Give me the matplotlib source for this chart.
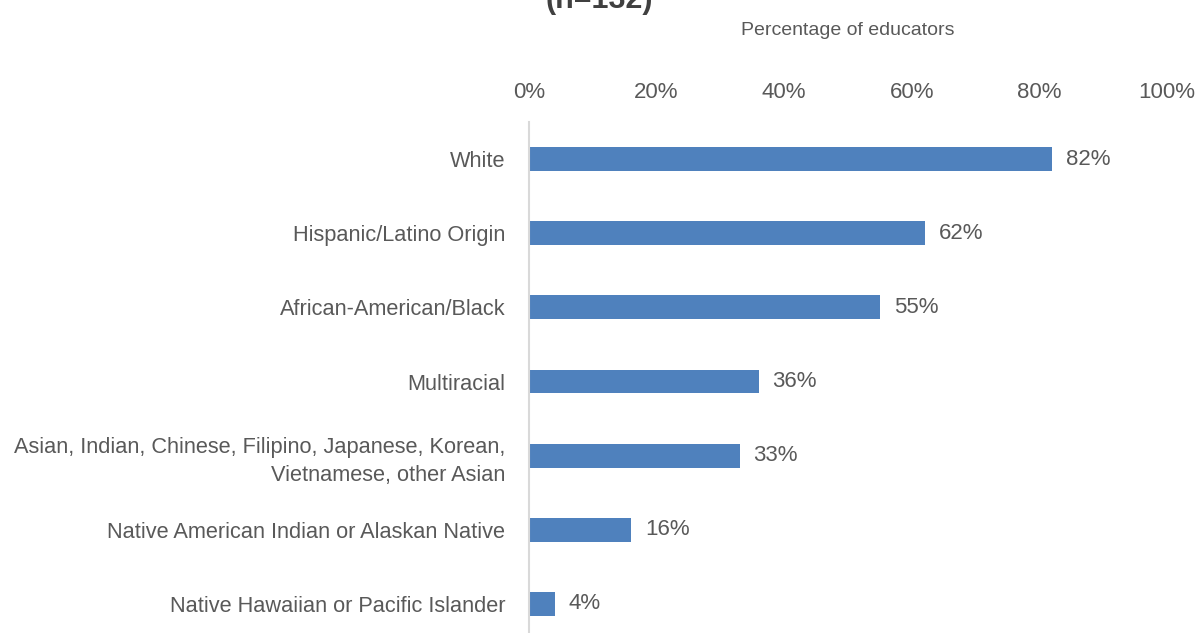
import matplotlib.pyplot as plt
import numpy as np

plt.rcParams['font.family'] = ['Liberation Sans', 'DejaVu Sans']

categories = [
    'White',
    'Hispanic/Latino Origin',
    'African-American/Black',
    'Multiracial',
    'Asian, Indian, Chinese, Filipino, Japanese, Korean,\nVietnamese, other Asian',
    'Native American Indian or Alaskan Native',
    'Native Hawaiian or Pacific Islander',
]
values = [82, 62, 55, 36, 33, 16, 4]
ticks = [0, 20, 40, 60, 80, 100]
tick_labels = ['0%', '20%', '40%', '60%', '80%', '100%']

bar_color = '#4F81BD'
text_color = '#595959'

fig = plt.figure(figsize=(11.98, 6.33), dpi=100, facecolor='white')
ax = fig.add_axes([529 / 1198, -8 / 633, (1167 - 529) / 1198, (641 - 122) / 633])

y = np.arange(len(categories))
bars = ax.barh(y, values, height=0.32, color=bar_color)
ax.set_ylim(len(categories) - 0.5, -0.5)
ax.set_xlim(0, 100)

ax.set_yticks(y)
ax.set_yticklabels(categories, fontsize=15.7, color=text_color, linespacing=1.4)
ax.tick_params(axis='y', length=0, pad=17)
ax.xaxis.tick_top()
ax.set_xticks(ticks)
ax.set_xticklabels(tick_labels, fontsize=16, color=text_color)
ax.tick_params(axis='x', length=0, pad=13.5)
ax.xaxis.set_label_position('top')
ax.set_xlabel('Percentage of educators', fontsize=14, color=text_color, labelpad=34)

for s in ['top', 'right', 'bottom']:
    ax.spines[s].set_visible(False)
ax.spines['left'].set_color('#D9D9D9')
ax.spines['left'].set_linewidth(1.5)

for b, v in zip(bars, values):
    ax.annotate(f'{v}%', (b.get_width(), b.get_y() + b.get_height() / 2),
                xytext=(10, 0), textcoords='offset points', va='center', ha='left',
                fontsize=16, color=text_color)

fig.text(0.5, 1 - 8 / 633, '(n=132)', ha='center', va='baseline', fontsize=22,
         fontweight='bold', color='#404040')

fig.savefig('out.png', dpi=100, facecolor='white')
